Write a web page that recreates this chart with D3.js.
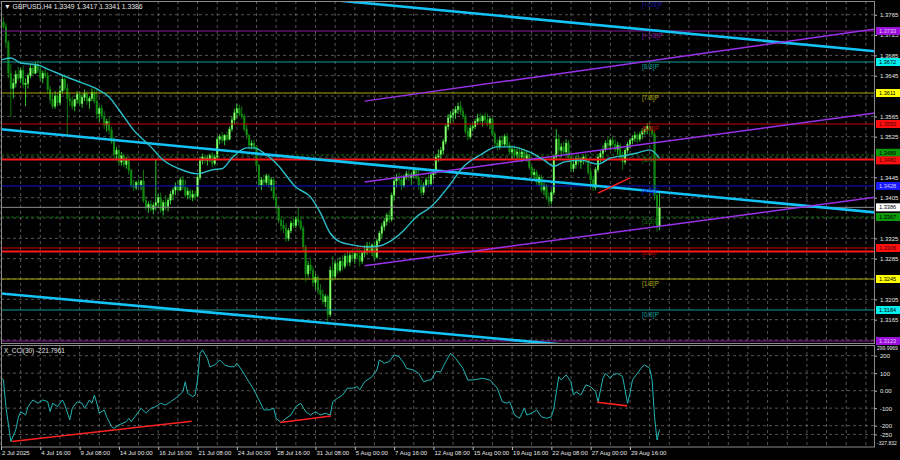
<!DOCTYPE html>
<html><head><meta charset="utf-8">
<script src="https://cdn.jsdelivr.net/npm/d3@7"></script>
<style>html,body{margin:0;padding:0;background:#000;overflow:hidden}svg{display:block}</style>
</head><body><svg id="c" width="900" height="460"></svg>
<script>
// ---------- DATA ----------
const title = "GBPUSD,H4  1.3349 1.3417 1.3341 1.3386";
const cciTitle = "X_CCI(30) -221.7961";
// [open, high, low, close] per H4 bar starting 2 Jul 2025 00:00
const candles = [
[1.3745,1.3757,1.3735,1.3750],[1.3750,1.3760,1.3738,1.3742],[1.3742,1.3748,1.3700,1.3710],[1.3710,1.3715,1.3640,1.3650],
[1.3650,1.3668,1.3564,1.3620],[1.3620,1.3640,1.3600,1.3630],[1.3630,1.3655,1.3622,1.3648],[1.3648,1.3662,1.3635,1.3640],
[1.3640,1.3660,1.3630,1.3655],[1.3655,1.3665,1.3620,1.3628],[1.3628,1.3640,1.3585,1.3630],[1.3630,1.3650,1.3620,1.3645],
[1.3645,1.3668,1.3640,1.3660],[1.3660,1.3670,1.3645,1.3650],[1.3650,1.3672,1.3648,1.3665],[1.3665,1.3675,1.3650,1.3655],
[1.3655,1.3662,1.3635,1.3640],[1.3640,1.3655,1.3630,1.3650],[1.3650,1.3660,1.3640,1.3645],[1.3645,1.3652,1.3610,1.3618],
[1.3618,1.3625,1.3590,1.3598],[1.3598,1.3610,1.3580,1.3585],[1.3585,1.3615,1.3580,1.3605],[1.3605,1.3612,1.3585,1.3592],
[1.3592,1.3625,1.3588,1.3615],[1.3615,1.3645,1.3610,1.3638],[1.3638,1.3648,1.3615,1.3620],[1.3620,1.3630,1.3528,1.3600],
[1.3600,1.3610,1.3585,1.3595],[1.3595,1.3605,1.3578,1.3585],[1.3585,1.3600,1.3575,1.3598],[1.3598,1.3615,1.3590,1.3608],
[1.3608,1.3612,1.3585,1.3590],[1.3590,1.3608,1.3582,1.3602],[1.3602,1.3618,1.3595,1.3610],[1.3610,1.3615,1.3588,1.3595],
[1.3595,1.3605,1.3580,1.3600],[1.3600,1.3620,1.3595,1.3612],[1.3612,1.3618,1.3590,1.3595],[1.3595,1.3620,1.3560,1.3570],
[1.3570,1.3585,1.3555,1.3580],[1.3580,1.3588,1.3560,1.3565],[1.3565,1.3575,1.3540,1.3548],[1.3548,1.3560,1.3535,1.3555],
[1.3555,1.3565,1.3530,1.3538],[1.3538,1.3545,1.3510,1.3515],[1.3515,1.3525,1.3480,1.3490],[1.3490,1.3505,1.3478,1.3498],
[1.3498,1.3502,1.3470,1.3475],[1.3475,1.3495,1.3468,1.3488],[1.3488,1.3492,1.3465,1.3470],[1.3470,1.3485,1.3462,1.3478],
[1.3478,1.3482,1.3450,1.3458],[1.3458,1.3462,1.3425,1.3430],[1.3430,1.3440,1.3418,1.3425],[1.3425,1.3438,1.3420,1.3435],
[1.3435,1.3442,1.3425,1.3430],[1.3430,1.3440,1.3420,1.3438],[1.3438,1.3460,1.3395,1.3400],[1.3400,1.3408,1.3380,1.3385],
[1.3385,1.3398,1.3375,1.3392],[1.3392,1.3400,1.3378,1.3382],[1.3382,1.3395,1.3372,1.3390],[1.3390,1.3480,1.3380,1.3395],
[1.3395,1.3412,1.3385,1.3405],[1.3405,1.3415,1.3375,1.3380],[1.3380,1.3400,1.3370,1.3395],[1.3395,1.3410,1.3380,1.3388],
[1.3388,1.3405,1.3378,1.3400],[1.3400,1.3418,1.3392,1.3412],[1.3412,1.3425,1.3400,1.3420],[1.3420,1.3435,1.3410,1.3428],
[1.3428,1.3440,1.3415,1.3420],[1.3420,1.3445,1.3418,1.3440],[1.3440,1.3448,1.3420,1.3425],[1.3425,1.3440,1.3405,1.3410],
[1.3410,1.3425,1.3402,1.3418],[1.3418,1.3422,1.3400,1.3405],[1.3405,1.3420,1.3398,1.3412],[1.3412,1.3418,1.3400,1.3408],
[1.3408,1.3450,1.3405,1.3445],[1.3445,1.3485,1.3440,1.3478],[1.3478,1.3492,1.3470,1.3485],[1.3485,1.3490,1.3472,1.3478],
[1.3478,1.3488,1.3468,1.3482],[1.3482,1.3492,1.3475,1.3488],[1.3488,1.3495,1.3465,1.3472],[1.3472,1.3490,1.3468,1.3485],
[1.3485,1.3525,1.3480,1.3520],[1.3520,1.3530,1.3510,1.3525],[1.3525,1.3535,1.3512,1.3518],[1.3518,1.3530,1.3508,1.3528],
[1.3528,1.3535,1.3515,1.3520],[1.3520,1.3545,1.3518,1.3540],[1.3540,1.3565,1.3535,1.3558],[1.3558,1.3580,1.3550,1.3572],
[1.3572,1.3590,1.3560,1.3580],[1.3580,1.3588,1.3565,1.3570],[1.3570,1.3585,1.3560,1.3565],[1.3565,1.3570,1.3535,1.3540],
[1.3540,1.3548,1.3520,1.3528],[1.3528,1.3530,1.3500,1.3508],[1.3508,1.3518,1.3500,1.3512],[1.3512,1.3520,1.3498,1.3505],
[1.3505,1.3508,1.3460,1.3468],[1.3468,1.3472,1.3425,1.3430],[1.3430,1.3445,1.3420,1.3440],[1.3440,1.3450,1.3428,1.3435],
[1.3435,1.3452,1.3430,1.3448],[1.3448,1.3452,1.3425,1.3430],[1.3430,1.3445,1.3418,1.3440],[1.3440,1.3445,1.3400,1.3405],
[1.3405,1.3410,1.3380,1.3385],[1.3385,1.3390,1.3355,1.3360],[1.3360,1.3368,1.3340,1.3350],[1.3350,1.3362,1.3335,1.3345],
[1.3345,1.3355,1.3318,1.3325],[1.3325,1.3345,1.3320,1.3340],[1.3340,1.3360,1.3335,1.3355],[1.3355,1.3365,1.3345,1.3350],
[1.3350,1.3368,1.3345,1.3362],[1.3362,1.3385,1.3350,1.3358],[1.3358,1.3368,1.3340,1.3345],[1.3345,1.3350,1.3300,1.3308],
[1.3308,1.3312,1.3240,1.3255],[1.3255,1.3280,1.3248,1.3272],[1.3272,1.3285,1.3255,1.3262],[1.3262,1.3270,1.3230,1.3238],
[1.3238,1.3255,1.3225,1.3248],[1.3248,1.3252,1.3215,1.3222],[1.3222,1.3235,1.3205,1.3215],[1.3215,1.3225,1.3195,1.3200],
[1.3200,1.3215,1.3190,1.3210],[1.3210,1.3215,1.3155,1.3175],[1.3175,1.3270,1.3170,1.3262],[1.3262,1.3290,1.3240,1.3250],
[1.3250,1.3280,1.3245,1.3275],[1.3275,1.3285,1.3255,1.3262],[1.3262,1.3288,1.3258,1.3280],[1.3280,1.3292,1.3262,1.3270],
[1.3270,1.3295,1.3265,1.3290],[1.3290,1.3300,1.3272,1.3278],[1.3278,1.3298,1.3270,1.3292],[1.3292,1.3305,1.3280,1.3285],
[1.3285,1.3300,1.3275,1.3295],[1.3295,1.3310,1.3285,1.3290],[1.3290,1.3305,1.3270,1.3280],[1.3280,1.3300,1.3275,1.3296],
[1.3296,1.3312,1.3288,1.3300],[1.3300,1.3318,1.3292,1.3310],[1.3310,1.3318,1.3295,1.3300],[1.3300,1.3315,1.3290,1.3312],
[1.3312,1.3320,1.3280,1.3288],[1.3288,1.3325,1.3285,1.3320],[1.3320,1.3340,1.3315,1.3335],[1.3335,1.3355,1.3325,1.3348],
[1.3348,1.3365,1.3340,1.3358],[1.3358,1.3375,1.3350,1.3370],[1.3370,1.3380,1.3355,1.3362],[1.3362,1.3415,1.3358,1.3410],
[1.3410,1.3445,1.3400,1.3438],[1.3438,1.3452,1.3425,1.3445],[1.3445,1.3455,1.3430,1.3440],[1.3440,1.3450,1.3420,1.3428],
[1.3428,1.3450,1.3425,1.3445],[1.3445,1.3458,1.3440,1.3452],[1.3452,1.3460,1.3438,1.3445],[1.3445,1.3455,1.3430,1.3450],
[1.3450,1.3465,1.3442,1.3458],[1.3458,1.3462,1.3440,1.3445],[1.3445,1.3465,1.3420,1.3430],[1.3430,1.3440,1.3408,1.3415],
[1.3415,1.3435,1.3410,1.3430],[1.3430,1.3445,1.3425,1.3440],[1.3440,1.3450,1.3425,1.3432],[1.3432,1.3455,1.3428,1.3450],
[1.3450,1.3462,1.3440,1.3455],[1.3455,1.3490,1.3450,1.3485],[1.3485,1.3500,1.3475,1.3490],[1.3490,1.3505,1.3478,1.3498],
[1.3498,1.3520,1.3490,1.3515],[1.3515,1.3550,1.3510,1.3545],[1.3545,1.3570,1.3538,1.3562],[1.3562,1.3575,1.3550,1.3568],
[1.3568,1.3580,1.3555,1.3572],[1.3572,1.3585,1.3560,1.3578],[1.3578,1.3592,1.3570,1.3585],[1.3585,1.3595,1.3568,1.3575],
[1.3575,1.3582,1.3560,1.3565],[1.3565,1.3570,1.3530,1.3535],[1.3535,1.3545,1.3518,1.3525],[1.3525,1.3548,1.3520,1.3542],
[1.3542,1.3552,1.3535,1.3545],[1.3545,1.3560,1.3540,1.3555],[1.3555,1.3570,1.3548,1.3562],[1.3562,1.3572,1.3550,1.3556],
[1.3556,1.3568,1.3545,1.3565],[1.3565,1.3572,1.3552,1.3558],[1.3558,1.3570,1.3545,1.3550],[1.3550,1.3565,1.3540,1.3560],
[1.3560,1.3562,1.3525,1.3530],[1.3530,1.3535,1.3505,1.3512],[1.3512,1.3520,1.3498,1.3505],[1.3505,1.3525,1.3500,1.3518],
[1.3518,1.3528,1.3505,1.3510],[1.3510,1.3530,1.3505,1.3525],[1.3525,1.3532,1.3505,1.3508],[1.3508,1.3515,1.3490,1.3495],
[1.3495,1.3505,1.3480,1.3500],[1.3500,1.3508,1.3482,1.3488],[1.3488,1.3502,1.3478,1.3495],[1.3495,1.3505,1.3480,1.3485],
[1.3485,1.3500,1.3475,1.3495],[1.3495,1.3502,1.3478,1.3482],[1.3482,1.3498,1.3476,1.3490],[1.3490,1.3492,1.3460,1.3465],
[1.3465,1.3470,1.3445,1.3450],[1.3450,1.3462,1.3440,1.3455],[1.3455,1.3460,1.3430,1.3435],[1.3435,1.3450,1.3428,1.3445],
[1.3445,1.3450,1.3415,1.3420],[1.3420,1.3435,1.3410,1.3428],[1.3428,1.3432,1.3400,1.3405],[1.3405,1.3415,1.3388,1.3398],
[1.3398,1.3420,1.3392,1.3415],[1.3415,1.3490,1.3410,1.3485],[1.3485,1.3540,1.3480,1.3520],[1.3520,1.3530,1.3490,1.3498],
[1.3498,1.3512,1.3485,1.3505],[1.3505,1.3515,1.3490,1.3495],[1.3495,1.3520,1.3490,1.3512],[1.3512,1.3518,1.3480,1.3485],
[1.3485,1.3492,1.3455,1.3462],[1.3462,1.3478,1.3455,1.3470],[1.3470,1.3488,1.3462,1.3482],[1.3482,1.3490,1.3468,1.3475],
[1.3475,1.3485,1.3462,1.3480],[1.3480,1.3490,1.3470,1.3485],[1.3485,1.3492,1.3472,1.3478],[1.3478,1.3482,1.3450,1.3455],
[1.3455,1.3465,1.3430,1.3440],[1.3440,1.3448,1.3418,1.3425],[1.3425,1.3465,1.3420,1.3460],[1.3460,1.3490,1.3455,1.3485],
[1.3485,1.3498,1.3475,1.3492],[1.3492,1.3508,1.3482,1.3500],[1.3500,1.3518,1.3495,1.3512],[1.3512,1.3525,1.3500,1.3508],
[1.3508,1.3522,1.3498,1.3518],[1.3518,1.3528,1.3505,1.3510],[1.3510,1.3520,1.3495,1.3500],[1.3500,1.3515,1.3490,1.3508],
[1.3508,1.3512,1.3480,1.3485],[1.3485,1.3495,1.3460,1.3475],[1.3475,1.3502,1.3470,1.3498],[1.3498,1.3515,1.3492,1.3510],
[1.3510,1.3522,1.3502,1.3518],[1.3518,1.3528,1.3510,1.3522],[1.3522,1.3535,1.3515,1.3528],[1.3528,1.3532,1.3512,1.3520],
[1.3520,1.3535,1.3515,1.3530],[1.3530,1.3542,1.3520,1.3535],[1.3535,1.3545,1.3528,1.3540],[1.3540,1.3552,1.3530,1.3545],
[1.3545,1.3555,1.3532,1.3538],[1.3538,1.3545,1.3525,1.3530],[1.3530,1.3535,1.3400,1.3410],[1.3410,1.3420,1.3338,1.3349],
[1.3349,1.3417,1.3341,1.3386]
];
// moving average: bar index / value
const maBars = [0,4,8,15,20,27,33,39,44,48,54,61,66,73,80,86,90,94,100,103,107,112,120,126,130,134,138,143,149,154,158,164,169,175,182,188,195,202,208,215,221,225,229,236,243,248,253,259,264,268];
const maVals = [1.3676,1.3680,1.3670,1.3666,1.3656,1.3642,1.3631,1.3619,1.3603,1.3578,1.3538,1.3505,1.3479,1.3461,1.3452,1.3460,1.3462,1.3483,1.3503,1.3503,1.3493,1.3473,1.3426,1.3406,1.3375,1.3335,1.3318,1.3312,1.3308,1.3310,1.3318,1.3341,1.3367,1.3387,1.3426,1.3465,1.3489,1.3505,1.3505,1.3495,1.3479,1.3467,1.3475,1.3479,1.3471,1.3483,1.3487,1.3493,1.3499,1.3483];
// CCI(30)
const cciBars = [0,1,2,4,6,7,8,10,11,13,15,17,19,20,21,23,25,26,28,29,31,33,34,36,37,38,39,40,42,43,45,46,48,51,52,53,55,57,59,61,63,65,67,69,72,74,75,76,78,79,80,81,82,84,85,87,89,91,93,95,96,98,100,103,105,107,109,111,112,114,116,118,120,122,124,126,128,130,132,134,135,137,139,141,143,145,146,148,151,153,154,156,158,160,162,164,165,168,170,172,174,175,177,179,181,183,185,188,190,192,196,199,202,204,206,207,209,211,213,214,216,218,220,222,224,225,227,228,230,232,233,234,236,238,240,242,243,244,245,246,248,249,251,253,255,256,257,259,261,262,264,265,266,267,268];
const cciVals = [77,61,-91,-291,-225,-156,-120,-139,-91,-53,-72,-53,-63,-120,-72,-91,-53,-82,-167,-101,-63,-72,-101,-53,-72,-25,-72,-129,-110,-149,-206,-215,-196,-177,-158,-177,-139,-101,-129,-101,-91,-72,-82,-63,-34,-6,51,-15,-34,-25,61,214,233,185,137,147,176,147,137,137,157,118,71,4,-53,-110,-110,-101,-158,-183,-158,-139,-91,-72,-120,-139,-120,-139,-129,-139,-63,-43,-25,14,14,23,4,51,80,118,176,157,166,204,194,157,128,118,99,51,61,61,109,109,166,214,185,128,61,61,71,61,14,-63,-72,-63,-139,-158,-101,-139,-129,-110,-149,-158,-149,-101,80,61,90,51,-25,-6,-25,33,23,-6,-63,4,71,99,71,90,99,80,-72,-15,61,99,137,147,128,61,-150,-282,-222];
// Murrey Math levels
const mmNames  = ["[+2/8]P","[+1/8]P","[8/8]P","[7/8]P","[6/8]P","[5/8]P","[4/8]P","[3/8]P","[2/8]P","[1/8]P","[0/8]P","[-1/8]P"];
const mmValues = [1.3794,1.3733,1.3672,1.3611,1.3550,1.3489,1.3428,1.3367,1.3306,1.3245,1.3184,1.3123];
const redLevels = [1.3480,1.3299];
const lastPrice = 1.3386;
// drawn trend lines: [[bar, price],[bar, price]]
const blueLines = [[[-1,1.3540],[356,1.3376]],[[100,1.3810],[356,1.3693]],[[-1,1.3217],[240,1.3111]]];
const purpleLines = [[[148,1.3595],[356,1.3737]],[[148,1.3436],[356,1.3572]],[[148,1.3271],[356,1.3406]]];
const redTrend = [[243,1.3414],[256,1.3444]];
const cciRedLines = [[[4.4,-291],[77.6,-175]],[[113.6,-182],[134.3,-145]],[[242.6,-66],[254.8,-87]]];
// axes (tick labels covered by the level boxes in the reference are omitted)
const priceTicks = [1.3765,1.3725,1.3685,1.3645,1.3565,1.3525,1.3445,1.3405,1.3325,1.3285,1.3205,1.3165];
const gridTicks = [1.3765,1.3725,1.3685,1.3645,1.3605,1.3565,1.3525,1.3485,1.3445,1.3405,1.3365,1.3325,1.3285,1.3245,1.3205,1.3165,1.3125];
const cciTicks = [200,100,0,-100,-200,-250];
const cciTickLabels = ["200","100","0.00","-100","-200","-250"];
const cciMax = "299.9969", cciMin = "-327.832";
const timeBars = [0,16,32,48,64,80,96,112,128,144,160,176,192,208,224,240,256];
const timeLabels = ["2 Jul 2025","4 Jul 16:00","9 Jul 08:00","14 Jul 00:00","16 Jul 16:00","21 Jul 08:00","24 Jul 00:00","28 Jul 16:00","31 Jul 08:00","5 Aug 00:00","7 Aug 16:00","12 Aug 08:00","15 Aug 00:00","19 Aug 16:00","22 Aug 08:00","27 Aug 00:00","29 Aug 16:00"];

// ---------- STYLE ----------
const mmLine = ["#1a1aa0","#8a1a9a","#149a9a","#a8a800","#d00000","#0b6e0b","#1010e0","#0b6e0b","#d00000","#a8a800","#149a9a","#8a1a9a"];
const mmBox  = ["#2020ff","#9a10d8","#00f0f0","#ffff00","#ff1010","#0a9a0a","#1a1aff","#0a9a0a","#ff1010","#ffff00","#00f0f0","#9a10d8"];
const mmBoxText = ["#fff","#e8c0ff","#000","#000","#400","#000","#d0d0ff","#000","#400","#000","#000","#e8c0ff"];
const mmBoxShift = [0,0,0,0,0,-2.2,0,0,0,0,0,0];
const mmDash = [null,null,null,null,null,"3,2",null,"3,2",null,null,null,null];
const FONT = '"Liberation Sans", Arial, sans-serif';
const PL=1, PR=875, MT=1, MB=343, CT=346, CB=447;

// ---------- SCALES ----------
const x = d3.scaleLinear().domain([0,356]).range([1, 1+356*2.457]);
const yP = d3.scaleLinear().domain([1.3123,1.3733]).range([341,31]);
const yC = d3.scaleLinear().domain([-250,200]).range([434.4,355.7]);

const svg = d3.select("#c");
svg.append("rect").attr("width",900).attr("height",460).attr("fill","#000");
const defs = svg.append("defs");
defs.append("clipPath").attr("id","cm").append("rect").attr("x",PL).attr("y",MT).attr("width",PR-PL).attr("height",MB-MT);
defs.append("clipPath").attr("id","cc").append("rect").attr("x",PL).attr("y",CT).attr("width",PR-PL).attr("height",CB-CT);

// grid
const gridC = "#6a6a6a";
const vBars = d3.range(0,357,8);
const gGrid = svg.append("g").attr("stroke",gridC).attr("stroke-dasharray","3,3").attr("stroke-width",0.8);
vBars.forEach(b=>{
  gGrid.append("line").attr("x1",x(b)).attr("x2",x(b)).attr("y1",MT).attr("y2",MB);
  gGrid.append("line").attr("x1",x(b)).attr("x2",x(b)).attr("y1",CT).attr("y2",CB);
});
gridTicks.forEach(p=>gGrid.append("line").attr("x1",PL).attr("x2",PR).attr("y1",yP(p)).attr("y2",yP(p)));
cciTicks.forEach(v=>gGrid.append("line").attr("x1",PL).attr("x2",PR).attr("y1",yC(v)).attr("y2",yC(v)));

// main pane
const gm = svg.append("g").attr("clip-path","url(#cm)");
const cw = 1.6;
candles.forEach((c,i)=>{
  const [o,h,l,cl] = c; const up = cl>=o;
  const col = up ? "#3cf03c" : "#129612";
  gm.append("line").attr("x1",x(i)).attr("x2",x(i)).attr("y1",yP(h)).attr("y2",yP(l)).attr("stroke",col).attr("stroke-width",0.8);
  const top = yP(Math.max(o,cl)), bot = yP(Math.min(o,cl));
  gm.append("rect").attr("x",x(i)-cw/2).attr("y",top).attr("width",cw).attr("height",Math.max(0.8,bot-top))
    .attr("fill", up ? "#9dff7d" : "#0f8a0f").attr("stroke",col).attr("stroke-width",0.4);
});
mmValues.forEach((v,i)=>{
  gm.append("line").attr("x1",PL).attr("x2",PR).attr("y1",yP(v)).attr("y2",yP(v))
    .attr("stroke",mmLine[i]).attr("stroke-width",1).attr("stroke-dasharray",mmDash[i]);
});
redLevels.forEach(v=>gm.append("line").attr("x1",PL).attr("x2",PR).attr("y1",yP(v)).attr("y2",yP(v)).attr("stroke","#ff1a1a").attr("stroke-width",2));
gm.append("line").attr("x1",PL).attr("x2",PR).attr("y1",yP(lastPrice)).attr("y2",yP(lastPrice)).attr("stroke","#8c8c8c").attr("stroke-width",1);
const seg = (g,p,yS,col,w)=>g.append("line").attr("x1",x(p[0][0])).attr("y1",yS(p[0][1])).attr("x2",x(p[1][0])).attr("y2",yS(p[1][1])).attr("stroke",col).attr("stroke-width",w);
blueLines.forEach(p=>seg(gm,p,yP,"#13c3f5",2.6));
purpleLines.forEach(p=>seg(gm,p,yP,"#9a30e8",1.5));
seg(gm,redTrend,yP,"#ff2020",1.5);
gm.append("path").datum(maBars.map((b,i)=>[b,maVals[i]]))
  .attr("d",d3.line().x(d=>x(d[0])).y(d=>yP(d[1])).curve(d3.curveMonotoneX))
  .attr("fill","none").attr("stroke","#2cc0cc").attr("stroke-width",1.4);
mmValues.forEach((v,i)=>{
  gm.append("text").attr("x",642).attr("y",yP(v)+7).text(mmNames[i])
    .attr("fill",mmLine[i]).style("font-family",FONT).style("font-size","6.5px");
});

// CCI pane
const gc = svg.append("g").attr("clip-path","url(#cc)");
gc.append("path").datum(cciBars.map((b,i)=>[b,cciVals[i]]))
  .attr("d",d3.line().x(d=>x(d[0])).y(d=>yC(d[1])))
  .attr("fill","none").attr("stroke","#22b4b4").attr("stroke-width",1);
cciRedLines.forEach(p=>seg(gc,p,yC,"#ff2020",1.6));

// frames
const gf = svg.append("g").attr("fill","none").attr("stroke","#8a8a8a").attr("stroke-width",1);
gf.append("rect").attr("x",PL+0.5).attr("y",MT+0.5).attr("width",PR-PL-1).attr("height",MB-MT);
gf.append("rect").attr("x",PL+0.5).attr("y",CT-0.5).attr("width",PR-PL-1).attr("height",CB-CT+0.5);

// axes
const styleAxis = g=>{ g.select(".domain").remove(); g.selectAll("line").attr("stroke","#bbb");
  g.selectAll("text").attr("fill","#e6e6e6").style("font-family",FONT).style("font-size","6px"); };
svg.append("g").attr("transform",`translate(${PR},0)`)
  .call(d3.axisRight(yP).tickValues(priceTicks).tickFormat(d=>d.toFixed(4)).tickSize(2).tickPadding(3)).call(styleAxis);
svg.append("g").attr("transform",`translate(${PR},0)`)
  .call(d3.axisRight(yC).tickValues(cciTicks).tickFormat((d,i)=>cciTickLabels[i]).tickSize(2).tickPadding(3)).call(styleAxis);
const gT = svg.append("g").attr("transform",`translate(0,${CB})`)
  .call(d3.axisBottom(x).tickValues(timeBars).tickFormat((d,i)=>timeLabels[i]).tickSize(3).tickPadding(1)).call(styleAxis);
gT.selectAll("text").attr("text-anchor","start").attr("dx","0.5");
svg.append("text").attr("x",877).attr("y",350).text(cciMax).attr("fill","#e6e6e6").style("font-family",FONT).style("font-size","5px");
svg.append("text").attr("x",877).attr("y",445).text(cciMin).attr("fill","#e6e6e6").style("font-family",FONT).style("font-size","5px");

// price boxes
const box = (v,fill,tc,dy)=>{
  const g = svg.append("g").attr("transform",`translate(876,${yP(v)+dy})`);
  g.append("rect").attr("x",0).attr("y",-4).attr("width",24).attr("height",8).attr("fill",fill);
  g.append("text").attr("x",3).attr("y",2).text(v.toFixed(4)).attr("fill",tc).style("font-family",FONT).style("font-size","5.6px");
};
mmValues.forEach((v,i)=>{ if(i>0) box(v,mmBox[i],mmBoxText[i],mmBoxShift[i]); });
box(redLevels[0],"#ff1010","#400",0.8);
box(lastPrice,"#ffffff","#000",0);

// titles
svg.append("text").attr("x",4).attr("y",9).text("\u25BC  "+title).attr("fill","#e6e6e6").style("font-family",FONT).style("font-size","6.8px");
svg.append("text").attr("x",4).attr("y",353).text(cciTitle).attr("fill","#e6e6e6").style("font-family",FONT).style("font-size","6.4px");
</script></body></html>
